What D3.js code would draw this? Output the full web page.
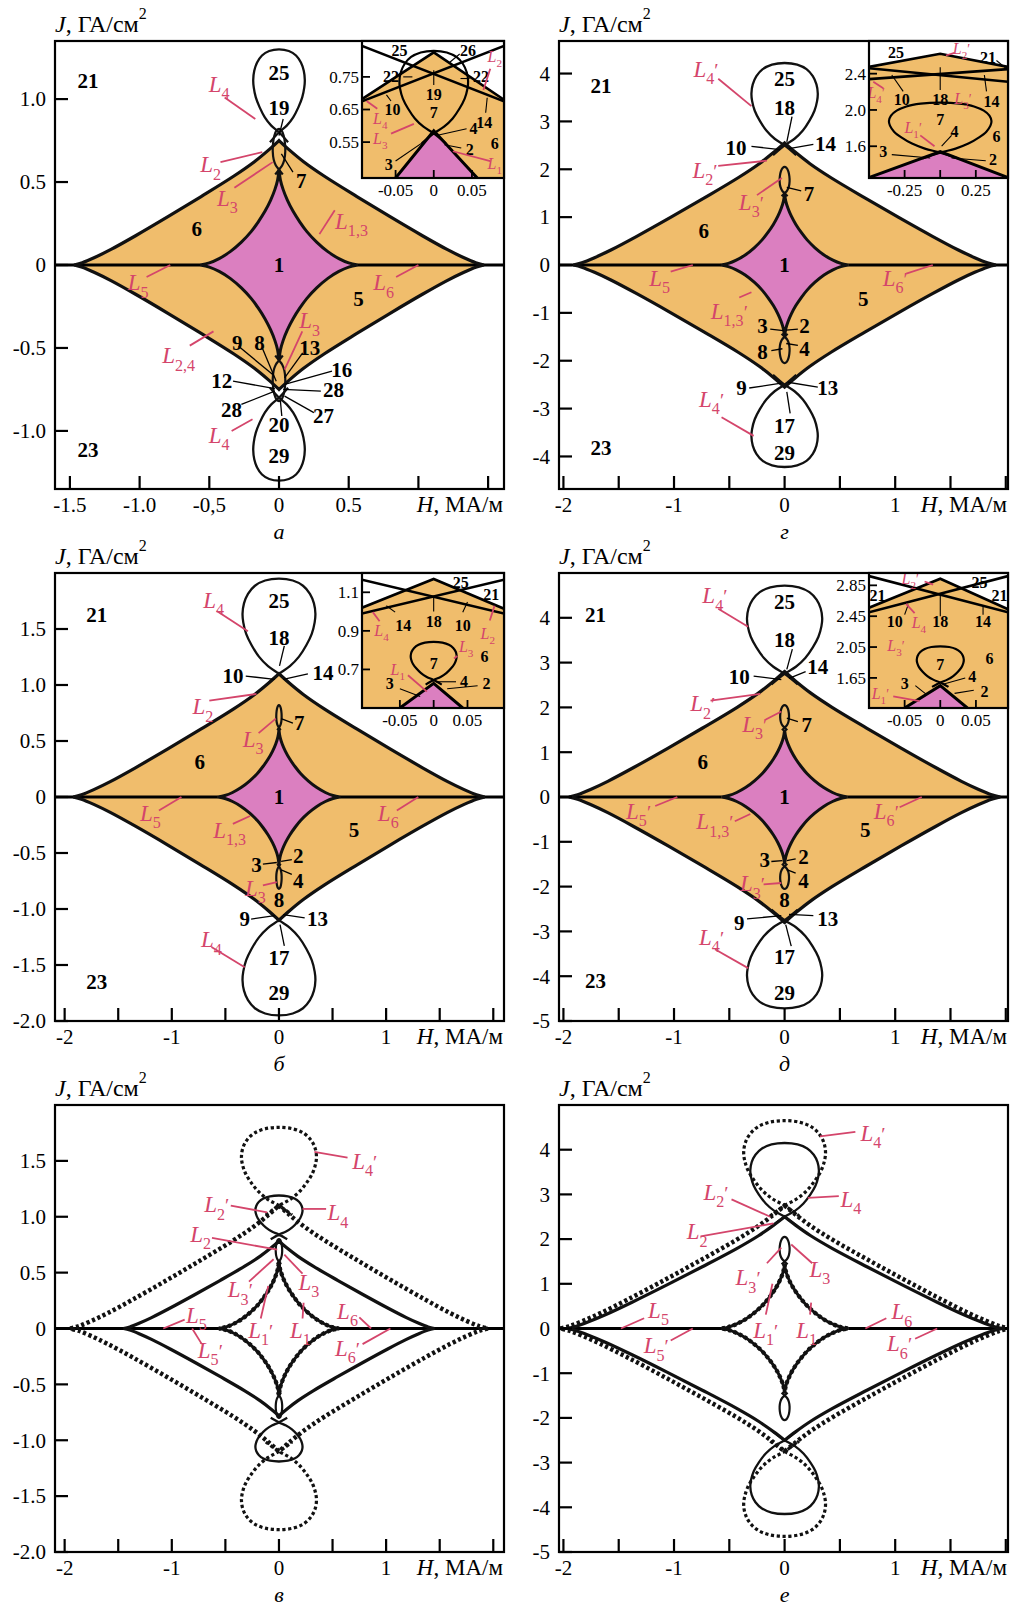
<!DOCTYPE html>
<html>
<head>
<meta charset="utf-8">
<script src="https://cdn.jsdelivr.net/npm/d3@7"></script>
<style>
  body { margin: 0; background: #fff; }
  text { font-family: 'Liberation Serif', 'DejaVu Serif', serif; }
</style>
</head>
<body>
<script>
// Curve shapes, as shares of each curve's extent (one quarter / one half)
const astroidShape = [[0,1],[0.018,0.89],[0.053,0.79],[0.106,0.68],[0.177,0.565],[0.265,0.45],[0.354,0.35],[0.478,0.24],[0.62,0.14],[0.76,0.067],[0.885,0.022],[1,0]];
const diamondShape = [[0,1],[0.05,0.925],[0.12,0.83],[0.22,0.715],[0.38,0.55],[0.54,0.39],[0.7,0.235],[0.82,0.125],[0.9,0.06],[0.96,0.018],[1,0]];
const loopShape = [[-0.35,-0.12],[0,0],[0.3,0.08],[0.55,0.18],[0.75,0.3],[0.9,0.42],[0.98,0.54],[1,0.63],[0.96,0.74],[0.85,0.84],[0.66,0.925],[0.38,0.98],[0,1]];
const lensShape = [[-0.6,-0.12],[0,0],[0.5,0.1],[0.85,0.25],[1,0.45],[0.95,0.65],[0.75,0.83],[0.4,0.96],[0,1]];

// Shared tick sets
const wideXTicks = [-2,-1.5,-1,-0.5,0,0.5,1,1.5,2];
const wideXLabels = ["-2","","-1","","0","","1","",""];
const twoYTicks = [-2,-1.5,-1,-0.5,0,0.5,1,1.5];
const twoYLabels = ["-2.0","-1.5","-1.0","-0.5","0","0.5","1.0","1.5"];
const fiveYTicks = [-5,-4,-3,-2,-1,0,1,2,3,4];
const fiveYLabels = ["-5","-4","-3","-2","-1","0","1","2","3","4"];

// ---- panel а ----
const aXTicks = [-1.5,-1,-0.5,0,0.5,1,1.5];
const aXLabels = ["-1.5","-1.0","-0,5","0","0.5","",""];
const aYTicks = [-1,-0.5,0,0.5,1];
const aYLabels = ["-1.0","-0.5","0","0.5","1.0"];
const aOuter = [1.47, 0.75];          // H vertex, J vertex
const aInner = [0.565, 0.575];
const aLens = [0.575, 0.82, 0.045];   // J bottom, J top, half width
const aLoop = [0.8, 1.3, 0.185];
const aNumbers = [["21",-1.37,1.11],["23",-1.37,-1.11],["25",0,1.16],["19",0,0.95],["7",0.16,0.51],["6",-0.59,0.22],["1",0,0],["5",0.57,-0.2],["9",-0.3,-0.465],["8",-0.14,-0.465],["13",0.22,-0.5],["16",0.45,-0.63],["12",-0.41,-0.7],["28",0.39,-0.754],["28",-0.34,-0.87],["27",0.32,-0.91],["20",0,-0.96],["29",0,-1.15]];
const aPointers = [[0.03,0.88,0,0.78],[0.1,0.56,0.017,0.67],[-0.29,-0.49,-0.045,-0.66],[-0.12,-0.5,-0.02,-0.7],[0.17,-0.53,0.04,-0.68],[0.38,-0.64,0.04,-0.72],[-0.33,-0.7,-0.03,-0.745],[0.3,-0.76,0.03,-0.75],[-0.27,-0.84,-0.03,-0.76],[0.25,-0.89,0.04,-0.79],[0.02,-0.91,0.01,-0.82]];
const aNames = [["4",0,-0.43,1.085,-0.39,1.01,-0.17,0.88],["2",0,-0.49,0.6,-0.42,0.62,-0.12,0.68],["3",0,-0.37,0.4,-0.32,0.465,-0.045,0.62],["1,3",0,0.52,0.26,0.4,0.33,0.29,0.186],["5",0,-1.01,-0.11,-0.95,-0.072,-0.78,0],["6",0,0.75,-0.11,0.84,-0.072,1.0,0],["2,4",0,-0.72,-0.55,-0.64,-0.486,-0.47,-0.4],["3",0,0.22,-0.34,0.167,-0.4,0.04,-0.63],["4",0,-0.43,-1.03,-0.34,-1.0,-0.19,-0.93]];
const aInXTicks = [-0.05,0,0.05];
const aInXLabels = ["-0.05","0","0.05"];
const aInYTicks = [0.55,0.65,0.75];
const aInYLabels = ["0.55","0.65","0.75"];
const aInRoof = [[-0.094,0.682],[0,0.825],[0.092,0.68]];
const aInCross = [[-0.094,0.845,0.092,0.675],[0.092,0.845,-0.094,0.675]];
const aInLoop = [0.577, 0.83, 0.045];
const aInPink = [[-0.05,0.44],[0,0.585],[0.057,0.44]];
const aInNumbers = [["25",-0.045,0.83],["26",0.045,0.83],["22",-0.056,0.75],["22",0.062,0.75],["19",0,0.696],["10",-0.054,0.651],["14",0.066,0.611],["7",0,0.641],["4",0.052,0.591],["6",0.08,0.547],["2",0.047,0.527],["3",-0.059,0.482]];
const aInPointers = [[-0.04,0.75,-0.028,0.75],[0.047,0.745,0.035,0.745],[0,0.77,0,0.725],[0.034,0.82,0.021,0.795],[-0.056,0.676,-0.062,0.695],[0.068,0.64,0.07,0.686],[0.043,0.591,0.005,0.571],[0.036,0.532,0.014,0.542],[-0.05,0.492,-0.01,0.556]];
const aInNames = [["2",0,0.08,0.81,0.074,0.775,0.065,0.71],["4",0,-0.07,0.62,-0.088,0.676,-0.074,0.652],["3",0,-0.07,0.56,-0.056,0.576,-0.026,0.606],["1",0,0.08,0.482,0.074,0.492,0.025,0.522]];

// ---- panel г ----
const gYTicks = [-4,-3,-2,-1,0,1,2,3,4];
const gYLabels = ["-4","-3","-2","-1","0","1","2","3","4"];
const gOuter = [1.91, 2.55];
const gInner = [0.575, 1.5];
const gLens = [1.5, 2.05, 0.045];
const gLoop = [2.5, 4.22, 0.3];
const gNumbers = [["21",-1.66,3.75],["23",-1.66,-3.82],["25",0,3.89],["18",0,3.29],["10",-0.44,2.46],["14",0.37,2.54],["7",0.22,1.5],["6",-0.73,0.71],["1",0,0],["5",0.71,-0.71],["3",-0.2,-1.26],["2",0.18,-1.26],["8",-0.2,-1.82],["4",0.18,-1.75],["9",-0.39,-2.57],["13",0.39,-2.57],["17",0,-3.36],["29",0,-3.93]];
const gPointers = [[0.067,3.1,0.02,2.57],[-0.3,2.48,-0.04,2.41],[0.26,2.52,0.04,2.43],[0.15,1.55,0.02,1.62],[-0.13,-1.34,-0.01,-1.37],[0.12,-1.34,0.015,-1.36],[-0.12,-1.79,-0.02,-1.75],[0.12,-1.68,0.015,-1.64],[-0.32,-2.57,-0.03,-2.47],[0.3,-2.55,0.03,-2.45],[0.05,-3.1,0.02,-2.65]];
const gNames = [["4",1,-0.71,4.07,-0.6,3.89,-0.3,3.32],["2",1,-0.72,1.96,-0.6,2.07,-0.16,2.18],["3",1,-0.3,1.3,-0.25,1.46,-0.025,1.82],["5",0,-1.13,-0.29,-1.03,-0.14,-0.83,0],["6",1,1.0,-0.29,1.1,-0.18,1.34,0],["1,3",1,-0.5,-0.98,-0.41,-0.68,-0.3,-0.57],["4",1,-0.66,-2.82,-0.57,-3.18,-0.28,-3.57]];
const gInXTicks = [-0.25,0,0.25];
const gInXLabels = ["-0.25","0","0.25"];
const gInYTicks = [1.6,2.0,2.4];
const gInYLabels = ["1.6","2.0","2.4"];
const gInRoof = [[-0.5,2.475],[0,2.62],[0.476,2.475]];
const gInCross = [[-0.5,2.46,0.476,2.31],[-0.5,2.34,0.476,2.45]];
const gInLoop = [1.53, 2.08, 0.36];
const gInPink = [[-0.5,1.255],[0,1.54],[0.476,1.255]];
const gInNumbers = [["25",-0.31,2.635],["21",0.336,2.58],["10",-0.27,2.116],["18",0,2.116],["14",0.36,2.098],["7",0,1.9],["4",0.1,1.76],["6",0.395,1.705],["3",-0.4,1.54],["2",0.37,1.454]];
const gInPointers = [[0.395,2.545,0.465,2.456],[-0.26,2.205,-0.34,2.385],[0,2.22,0,2.47],[0.325,2.205,0.31,2.385],[0.08,1.72,0.01,1.6],[-0.34,1.508,-0.07,1.47],[0.32,1.44,0.08,1.47]];
const gInNames = [["2",1,0.15,2.67,0.1,2.63,0.04,2.6],["4",1,-0.45,2.19,-0.47,2.31,-0.4,2.24],["3",1,0.16,2.116,0,0,0,0],["1",1,-0.19,1.8,-0.14,1.72,-0.04,1.6]];

// ---- panel б ----
const bOuter = [1.92, 1.1];
const bInner = [0.57, 0.6];
const bLens = [0.62, 0.82, 0.025];
const bLoop = [1.1, 1.95, 0.34];
const bNumbers = [["21",-1.7,1.63],["23",-1.7,-1.65],["25",0,1.75],["18",0,1.42],["10",-0.43,1.08],["14",0.41,1.11],["7",0.19,0.66],["6",-0.74,0.32],["1",0,0],["5",0.7,-0.29],["3",-0.21,-0.6],["2",0.18,-0.52],["4",0.18,-0.745],["8",0,-0.92],["9",-0.32,-1.09],["13",0.36,-1.09],["17",0,-1.43],["29",0,-1.75]];
const bPointers = [[0.05,1.35,0.005,1.17],[-0.31,1.08,-0.04,1.05],[0.27,1.1,0.04,1.05],[0.13,0.66,0.02,0.7],[-0.15,-0.6,-0.02,-0.585],[0.12,-0.56,0.02,-0.575],[0.12,-0.69,0.02,-0.65],[-0.26,-1.09,-0.04,-1.06],[0.24,-1.08,0.04,-1.05],[0.05,-1.33,0.01,-1.14]];
const bNames = [["4",0,-0.61,1.75,-0.58,1.66,-0.29,1.48],["2",0,-0.71,0.8,-0.65,0.86,-0.21,0.92],["3",0,-0.24,0.51,-0.19,0.57,-0.03,0.7],["5",0,-1.2,-0.15,-1.12,-0.12,-0.91,0],["6",0,1.02,-0.15,1.1,-0.12,1.3,0],["1,3",0,-0.46,-0.3,-0.43,-0.24,-0.27,-0.17],["3",0,-0.22,-0.82,-0.15,-0.79,-0.02,-0.76],["4",0,-0.63,-1.28,-0.63,-1.34,-0.32,-1.52]];
const bInXTicks = [-0.05,0,0.05];
const bInXLabels = ["-0.05","0","0.05"];
const bInYTicks = [0.7,0.9,1.1];
const bInYLabels = ["0.7","0.9","1.1"];
const bInRoof = [[-0.106,1.02],[0,1.169],[0.104,1.015]];
const bInCross = [[-0.106,1.165,0.104,0.99],[0.104,1.165,-0.106,0.99]];
const bInLoop = [0.645, 0.843, 0.034];
const bInPink = [[-0.05,0.5],[0,0.628],[0.043,0.5]];
const bInNumbers = [["25",0.04,1.15],["21",0.085,1.09],["14",-0.045,0.93],["18",0,0.95],["10",0.043,0.93],["6",0.075,0.765],["7",0,0.73],["3",-0.065,0.628],["4",0.045,0.636],["2",0.078,0.628]];
const bInPointers = [[0,1.0,0,1.08],[-0.057,0.997,-0.07,1.03],[0.043,0.997,0.05,1.05],[0.033,0.636,0.003,0.636],[0.065,0.615,0.02,0.6],[-0.05,0.6,-0.02,0.56]];
const bInNames = [["4",0,-0.077,0.9,-0.09,0.997,-0.08,0.95],["2",0,0.08,0.885,0.083,0.954,0.09,1.03],["3",0,0.048,0.816,0.035,0.77,0.03,0.757],["1",0,-0.053,0.696,-0.038,0.67,-0.01,0.585]];

// ---- panel д ----
const dOuter = [1.95, 2.8];
const dInner = [0.57, 1.5];
const dLens = [1.55, 2.05, 0.04];
const dLoop = [2.75, 4.72, 0.34];
const dNumbers = [["21",-1.71,4.06],["23",-1.71,-4.1],["25",0,4.37],["18",0,3.52],["10",-0.41,2.68],["14",0.3,2.91],["7",0.2,1.61],["6",-0.74,0.8],["1",0,0],["5",0.73,-0.73],["3",-0.18,-1.4],["2",0.17,-1.33],["4",0.17,-1.86],["8",0,-2.3],["9",-0.41,-2.8],["13",0.39,-2.72],["17",0,-3.56],["29",0,-4.37]];
const dPointers = [[0.07,3.3,0.02,2.85],[-0.28,2.7,-0.03,2.62],[0.19,2.8,0.04,2.65],[0.12,1.68,0.02,1.76],[-0.12,-1.44,-0.02,-1.42],[0.1,-1.38,0.02,-1.42],[0.1,-1.7,0.02,-1.62],[-0.34,-2.72,-0.03,-2.65],[0.26,-2.65,0.04,-2.62],[0.06,-3.33,0.01,-2.85]];
const dNames = [["4",1,-0.63,4.48,-0.6,4.2,-0.33,3.8],["2",1,-0.74,2.07,-0.67,2.15,-0.22,2.3],["3",1,-0.27,1.61,-0.17,1.73,-0.03,1.91],["5",1,-1.32,-0.34,-1.17,-0.2,-0.97,0],["6",1,0.92,-0.34,1.04,-0.23,1.24,0],["1,3",1,-0.63,-0.57,-0.45,-0.54,-0.31,-0.38],["3",1,-0.29,-1.95,-0.19,-1.95,-0.03,-1.92],["4",1,-0.66,-3.14,-0.63,-3.4,-0.33,-3.82]];
const dInXTicks = [-0.05,0,0.05];
const dInXLabels = ["-0.05","0","0.05"];
const dInYTicks = [1.65,2.05,2.45,2.85];
const dInYLabels = ["1.65","2.05","2.45","2.85"];
const dInRoof = [[-0.1,2.56],[0,2.935],[0.095,2.54]];
const dInCross = [[-0.1,2.97,0.095,2.5],[0.095,2.97,-0.1,2.5]];
const dInLoop = [1.59, 2.06, 0.033];
const dInPink = [[-0.05,1.26],[0,1.55],[0.038,1.26]];
const dInNumbers = [["21",-0.088,2.72],["25",0.055,2.89],["21",0.083,2.72],["10",-0.064,2.38],["18",0,2.38],["14",0.06,2.38],["6",0.069,1.9],["7",0,1.82],["3",-0.05,1.58],["4",0.045,1.67],["2",0.062,1.48]];
const dInPointers = [[-0.05,2.47,-0.045,2.6],[0,2.45,0,2.72],[0.06,2.47,0.06,2.58],[-0.035,1.55,-0.02,1.44],[0.035,1.65,0.005,1.57],[0.047,1.49,0.02,1.45]];
const dInNames = [["2",1,-0.042,2.93,-0.022,2.9,-0.01,2.86],["4",0,-0.03,2.36,-0.048,2.61,-0.036,2.49],["3",1,-0.062,2.06,0,0,0,0],["1",1,-0.084,1.44,-0.066,1.41,-0.029,1.35]];

// ---- panel в (solid and dotted sets) ----
const vOuter = [1.45, 0.78];
const vInner = [0.56, 0.6];
const vLens = [0.6, 0.8, 0.03];
const vLoop = [0.84, 1.19, 0.22];
const vOuterDot = [1.95, 1.1];
const vLoopDot = [1.1, 1.8, 0.35];
const vNames = [["4",1,0.8,1.49,0.64,1.53,0.33,1.58],["2",1,-0.58,1.1,-0.45,1.1,-0.11,1.04],["4",0,0.55,1.03,0.44,1.07,0.22,1.07],["2",0,-0.73,0.84,-0.625,0.81,-0.016,0.706],["3",0,0.28,0.41,0.22,0.49,0.05,0.66],["3",1,-0.36,0.34,-0.28,0.42,-0.05,0.62],["1",1,-0.17,-0.02,-0.17,0.09,-0.1,0.38],["1",0,0.2,-0.02,0.22,0.09,0.23,0.23],["5",0,-0.77,0.11,-0.88,0.08,-1.08,0],["5",1,-0.64,-0.2,-0.72,-0.14,-0.81,0],["6",0,0.64,0.15,0.75,0.1,0.86,0],["6",1,0.64,-0.18,0.78,-0.14,1.04,0]];

// ---- panel е (solid and dotted sets) ----
const eOuter = [1.97, 2.5];
const eInner = [0.575, 1.45];
const eLens = [1.5, 2.05, 0.045];
const eLoop = [2.5, 4.15, 0.31];
const eOuterDot = [2.03, 2.75];
const eLoopDot = [2.75, 4.65, 0.37];
const eNames = [["4",1,0.8,4.35,0.64,4.4,0.32,4.3],["4",0,0.6,2.88,0.49,2.96,0.21,2.92],["2",1,-0.62,3.04,-0.48,2.89,-0.13,2.5],["2",0,-0.79,2.15,-0.76,2.06,-0.1,2.35],["3",0,0.32,1.31,0.25,1.46,0.06,1.88],["3",1,-0.33,1.12,-0.16,1.46,-0.03,1.81],["1",1,-0.17,-0.05,-0.17,0.31,-0.11,1.0],["1",0,0.2,-0.05,0.23,0.31,0.24,0.58],["5",0,-1.14,0.4,-1.27,0.23,-1.48,0],["5",1,-1.16,-0.4,-1.03,-0.27,-0.83,0],["6",0,1.06,0.36,0.92,0.23,0.73,0],["6",1,1.04,-0.36,1.18,-0.23,1.38,0]];

// Colours
const ORANGE = '#f0bd6c';
const PINK = '#db7fc0';
const RED = '#d4456b';

const svg = d3.select('body').append('svg')
    .attr('width', 1011)
    .attr('height', 1614);

function makeLine(x, y) {
    return d3.line().x(d => x(d[0])).y(d => y(d[1])).curve(d3.curveCatmullRom.alpha(0.5));
}

// closed symmetric curve built from one quarter
function closedShape(shape, ext, x, y) {
    const sx = d3.scaleLinear().domain([0, 1]).range([0, ext[0]]);
    const sy = d3.scaleLinear().domain([0, 1]).range([0, ext[1]]);
    const q = shape.map(d => [sx(d[0]), sy(d[1])]);
    const r = q.slice().reverse();
    const line = makeLine(x, y);
    const parts = [q, r.map(d => [d[0], -d[1]]), q.map(d => [-d[0], -d[1]]), r.map(d => [-d[0], d[1]])];
    return parts.map((p, i) => i ? 'L' + line(p).slice(1) : line(p)).join('') + 'Z';
}

// loop above (sign 1) or below (sign -1) the H axis, built from its right half
function loopPath(shape, spec, sign, x, y) {
    const sx = d3.scaleLinear().domain([0, 1]).range([0, spec[2]]);
    const sy = d3.scaleLinear().domain([0, 1]).range([spec[0], spec[1]]);
    const right = shape.map(d => [sx(d[0]), sign * sy(d[1])]);
    const left = shape.map(d => [-sx(d[0]), sign * sy(d[1])]).reverse();
    return makeLine(x, y)(right.concat(left.slice(1)));
}

function drawNumbers(g, list, x, y, size) {
    g.selectAll(null).data(list).join('text')
        .attr('x', d => x(d[1]))
        .attr('y', d => y(d[2]))
        .attr('dy', '0.35em')
        .attr('text-anchor', 'middle')
        .attr('font-size', size)
        .attr('font-weight', 'bold')
        .text(d => d[0]);
}

function drawPointers(g, list, x, y, color, w) {
    g.selectAll(null).data(list).join('line')
        .attr('x1', d => x(d[0])).attr('y1', d => y(d[1]))
        .attr('x2', d => x(d[2])).attr('y2', d => y(d[3]))
        .attr('stroke', color)
        .attr('stroke-width', w);
}

// red curve names: italic L, subscript index, prime after it
function drawNames(g, list, x, y, size) {
    drawPointers(g, list.filter(d => d[4] !== d[6]).map(d => d.slice(4)), x, y, RED, 1.8);
    list.forEach(d => {
        const t = g.append('text')
            .attr('x', x(d[2]))
            .attr('y', y(d[3]))
            .attr('dy', '0.3em')
            .attr('text-anchor', 'middle')
            .attr('fill', RED)
            .attr('font-size', size);
        t.append('tspan').attr('font-style', 'italic').text('L');
        t.append('tspan')
            .attr('font-size', size * 0.7)
            .attr('dy', size * 0.32)
            .text(d[0]);
        if (d[1]) t.append('tspan').attr('font-size', size * 0.85).attr('dy', -size * 0.32).text('′');
    });
}

let clipCount = 0;
function clipRect(l, t, r, b) {
    const id = 'clip' + (clipCount++);
    svg.append('clipPath').attr('id', id)
        .append('rect').attr('x', l).attr('y', t).attr('width', r - l).attr('height', b - t);
    return `url(#${id})`;
}

function drawInset(s) {
    const [l, t, r, b] = s.box;
    const x = d3.scaleLinear().domain(s.xDomain).range([l, r]);
    const y = d3.scaleLinear().domain(s.yDomain).range([b, t]);
    const lin = d3.line().x(d => x(d[0])).y(d => y(d[1]));
    const g = svg.append('g');
    g.append('rect').attr('x', l).attr('y', t).attr('width', r - l).attr('height', b - t).attr('fill', '#fff');
    const plot = g.append('g').attr('clip-path', clipRect(l, t, r, b));
    const [x0, x1] = s.xDomain;
    const y0 = s.yDomain[0];

    plot.append('path').attr('d', lin(s.roof.concat([[x1, y0], [x0, y0]])) + 'Z').attr('fill', ORANGE);
    plot.append('path').attr('d', lin(s.pink) + 'Z').attr('fill', PINK);
    plot.append('path').attr('d', lin(s.pink)).attr('fill', 'none').attr('stroke', '#000').attr('stroke-width', 3);
    plot.append('path').attr('d', lin(s.roof)).attr('fill', 'none').attr('stroke', '#000').attr('stroke-width', 2.6);
    drawPointers(plot, s.cross, x, y, '#000', 2.6);
    plot.append('path').attr('d', loopPath(loopShape, s.loop, 1, x, y))
        .attr('fill', 'none').attr('stroke', '#000').attr('stroke-width', 2.2);

    drawPointers(plot, s.pointers, x, y, '#000', 1.1);
    drawNumbers(plot, s.numbers, x, y, 16);
    drawNames(plot, s.names, x, y, 16);

    g.selectAll(null).data(s.yTicks).join('line')
        .attr('x1', l).attr('x2', l + 8).attr('y1', d => y(d)).attr('y2', d => y(d))
        .attr('stroke', '#000').attr('stroke-width', 1.8);
    g.selectAll(null).data(s.xTicks).join('line')
        .attr('x1', d => x(d)).attr('x2', d => x(d)).attr('y1', b).attr('y2', b - 8)
        .attr('stroke', '#000').attr('stroke-width', 1.8);
    g.append('rect').attr('x', l).attr('y', t).attr('width', r - l).attr('height', b - t)
        .attr('fill', 'none').attr('stroke', '#000').attr('stroke-width', 2.2);

    g.selectAll(null).data(s.yTicks).join('text')
        .attr('x', l - 3).attr('y', d => y(d)).attr('dy', '0.35em')
        .attr('text-anchor', 'end').attr('font-size', 17)
        .text((d, i) => s.yLabels[i]);
    g.selectAll(null).data(s.xTicks).join('text')
        .attr('x', d => x(d)).attr('y', b + 18)
        .attr('text-anchor', 'middle').attr('font-size', 17)
        .text((d, i) => s.xLabels[i]);
}

function drawPanel(p) {
    const [l, r] = p.col;
    const [t, b] = p.row;
    const x = d3.scaleLinear().domain(p.xDomain).range([l, r]);
    const y = d3.scaleLinear().domain(p.yDomain).range([b, t]);
    const g = svg.append('g');
    const plot = g.append('g').attr('clip-path', clipRect(l, t, r, b));
    const core = p.curves[0].inner[0];

    if (p.fill) {
        const c = p.curves[0];
        plot.append('path').attr('d', closedShape(diamondShape, c.outer, x, y)).attr('fill', ORANGE);
        plot.append('path').attr('d', closedShape(astroidShape, c.inner, x, y)).attr('fill', PINK);
    }

    // H axis line (L5, L6), absent inside the astroid
    drawPointers(plot, [[p.xDomain[0], 0, -core, 0], [core, 0, p.xDomain[1], 0]], x, y, '#000', 2.8);

    p.curves.forEach(c => {
        const k = c.dotted ? 1.4 : 1;
        const add = (d, w) => plot.append('path').attr('d', d)
            .attr('fill', 'none').attr('stroke', '#111').attr('stroke-width', w * k)
            .attr('stroke-dasharray', c.dotted ? '3.2,2.6' : null);
        add(closedShape(diamondShape, c.outer, x, y), 3.2);
        add(closedShape(astroidShape, c.inner, x, y), 3);
        [1, -1].forEach(sgn => {
            add(loopPath(loopShape, c.loop, sgn, x, y), 2.3);
            if (c.lens) add(loopPath(lensShape, c.lens, sgn, x, y), 2.2);
        });
    });

    drawPointers(plot, p.pointers, x, y, '#000', 1.3);
    drawNumbers(plot, p.numbers, x, y, 21);
    drawNames(plot, p.names, x, y, 23);

    // frame and inward ticks
    g.selectAll(null).data(p.yTicks).join('line')
        .attr('x1', l).attr('x2', l + 13).attr('y1', d => y(d)).attr('y2', d => y(d))
        .attr('stroke', '#000').attr('stroke-width', 2.2);
    g.selectAll(null).data(p.xTicks).join('line')
        .attr('x1', d => x(d)).attr('x2', d => x(d)).attr('y1', b).attr('y2', b - 13)
        .attr('stroke', '#000').attr('stroke-width', 2.2);
    g.append('rect').attr('x', l).attr('y', t).attr('width', r - l).attr('height', b - t)
        .attr('fill', 'none').attr('stroke', '#000').attr('stroke-width', 2.2);

    g.selectAll(null).data(p.yTicks).join('text')
        .attr('x', l - 9).attr('y', d => y(d)).attr('dy', '0.35em')
        .attr('text-anchor', 'end').attr('font-size', 21)
        .text((d, i) => p.yLabels[i]);
    g.selectAll(null).data(p.xTicks).join('text')
        .attr('x', d => x(d)).attr('y', b + 23)
        .attr('text-anchor', 'middle').attr('font-size', 21)
        .text((d, i) => p.xLabels[i]);

    // axis titles
    const jt = g.append('text').attr('x', l).attr('y', t - 9).attr('font-size', 24);
    jt.append('tspan').attr('font-style', 'italic').text('J');
    jt.append('tspan').text(', ГА/см');
    jt.append('tspan').attr('font-size', 16).attr('dy', -13).text('2');
    const ht = g.append('text').attr('x', r - 1).attr('y', b + 23).attr('text-anchor', 'end').attr('font-size', 23);
    ht.append('tspan').attr('font-style', 'italic').text('H');
    ht.append('tspan').text(', МА/м');

    g.append('text').attr('x', x(0)).attr('y', b + 50)
        .attr('text-anchor', 'middle').attr('font-size', 22).attr('font-style', 'italic')
        .text(p.letter);

    if (p.inset) drawInset(p.inset);
}

const LEFT = [55, 504], RIGHT = [559, 1008];
const ROWS = [[41, 489], [573, 1021], [1105, 1552]];

drawPanel({
    col: LEFT, row: ROWS[0], letter: 'а', fill: true,
    xDomain: [-1.607, 1.614], yDomain: [-1.35, 1.35],
    xTicks: aXTicks, xLabels: aXLabels, yTicks: aYTicks, yLabels: aYLabels,
    curves: [{ outer: aOuter, inner: aInner, lens: aLens, loop: aLoop }],
    numbers: aNumbers, pointers: aPointers, names: aNames,
    inset: { box: [362, 41, 504, 178], xDomain: [-0.094, 0.092], yDomain: [0.44, 0.86],
        xTicks: aInXTicks, xLabels: aInXLabels, yTicks: aInYTicks, yLabels: aInYLabels,
        roof: aInRoof, cross: aInCross, loop: aInLoop, pink: aInPink,
        numbers: aInNumbers, pointers: aInPointers, names: aInNames }
});

drawPanel({
    col: RIGHT, row: ROWS[0], letter: 'г', fill: true,
    xDomain: [-2.04, 2.02], yDomain: [-4.68, 4.68],
    xTicks: wideXTicks, xLabels: wideXLabels, yTicks: gYTicks, yLabels: gYLabels,
    curves: [{ outer: gOuter, inner: gInner, lens: gLens, loop: gLoop }],
    numbers: gNumbers, pointers: gPointers, names: gNames,
    inset: { box: [869, 41, 1008, 178], xDomain: [-0.5, 0.476], yDomain: [1.25, 2.76],
        xTicks: gInXTicks, xLabels: gInXLabels, yTicks: gInYTicks, yLabels: gInYLabels,
        roof: gInRoof, cross: gInCross, loop: gInLoop, pink: gInPink,
        numbers: gInNumbers, pointers: gInPointers, names: gInNames }
});

drawPanel({
    col: LEFT, row: ROWS[1], letter: 'б', fill: true,
    xDomain: [-2.09, 2.1], yDomain: [-2, 2],
    xTicks: wideXTicks, xLabels: wideXLabels, yTicks: twoYTicks, yLabels: twoYLabels,
    curves: [{ outer: bOuter, inner: bInner, lens: bLens, loop: bLoop }],
    numbers: bNumbers, pointers: bPointers, names: bNames,
    inset: { box: [362, 573, 504, 708], xDomain: [-0.106, 0.104], yDomain: [0.5, 1.2],
        xTicks: bInXTicks, xLabels: bInXLabels, yTicks: bInYTicks, yLabels: bInYLabels,
        roof: bInRoof, cross: bInCross, loop: bInLoop, pink: bInPink,
        numbers: bInNumbers, pointers: bInPointers, names: bInNames }
});

drawPanel({
    col: RIGHT, row: ROWS[1], letter: 'д', fill: true,
    xDomain: [-2.04, 2.02], yDomain: [-5, 5],
    xTicks: wideXTicks, xLabels: wideXLabels, yTicks: fiveYTicks, yLabels: fiveYLabels,
    curves: [{ outer: dOuter, inner: dInner, lens: dLens, loop: dLoop }],
    numbers: dNumbers, pointers: dPointers, names: dNames,
    inset: { box: [869, 573, 1008, 708], xDomain: [-0.1, 0.095], yDomain: [1.26, 3.01],
        xTicks: dInXTicks, xLabels: dInXLabels, yTicks: dInYTicks, yLabels: dInYLabels,
        roof: dInRoof, cross: dInCross, loop: dInLoop, pink: dInPink,
        numbers: dInNumbers, pointers: dInPointers, names: dInNames }
});

drawPanel({
    col: LEFT, row: ROWS[2], letter: 'в', fill: false,
    xDomain: [-2.09, 2.1], yDomain: [-2, 2],
    xTicks: wideXTicks, xLabels: wideXLabels, yTicks: twoYTicks, yLabels: twoYLabels,
    curves: [{ outer: vOuter, inner: vInner, lens: vLens, loop: vLoop },
             { outer: vOuterDot, inner: vInner, lens: null, loop: vLoopDot, dotted: true }],
    numbers: [], pointers: [], names: vNames
});

drawPanel({
    col: RIGHT, row: ROWS[2], letter: 'е', fill: false,
    xDomain: [-2.04, 2.02], yDomain: [-5, 5],
    xTicks: wideXTicks, xLabels: wideXLabels, yTicks: fiveYTicks, yLabels: fiveYLabels,
    curves: [{ outer: eOuter, inner: eInner, lens: eLens, loop: eLoop },
             { outer: eOuterDot, inner: eInner, lens: null, loop: eLoopDot, dotted: true }],
    numbers: [], pointers: [], names: eNames
});
</script>
</body>
</html>
